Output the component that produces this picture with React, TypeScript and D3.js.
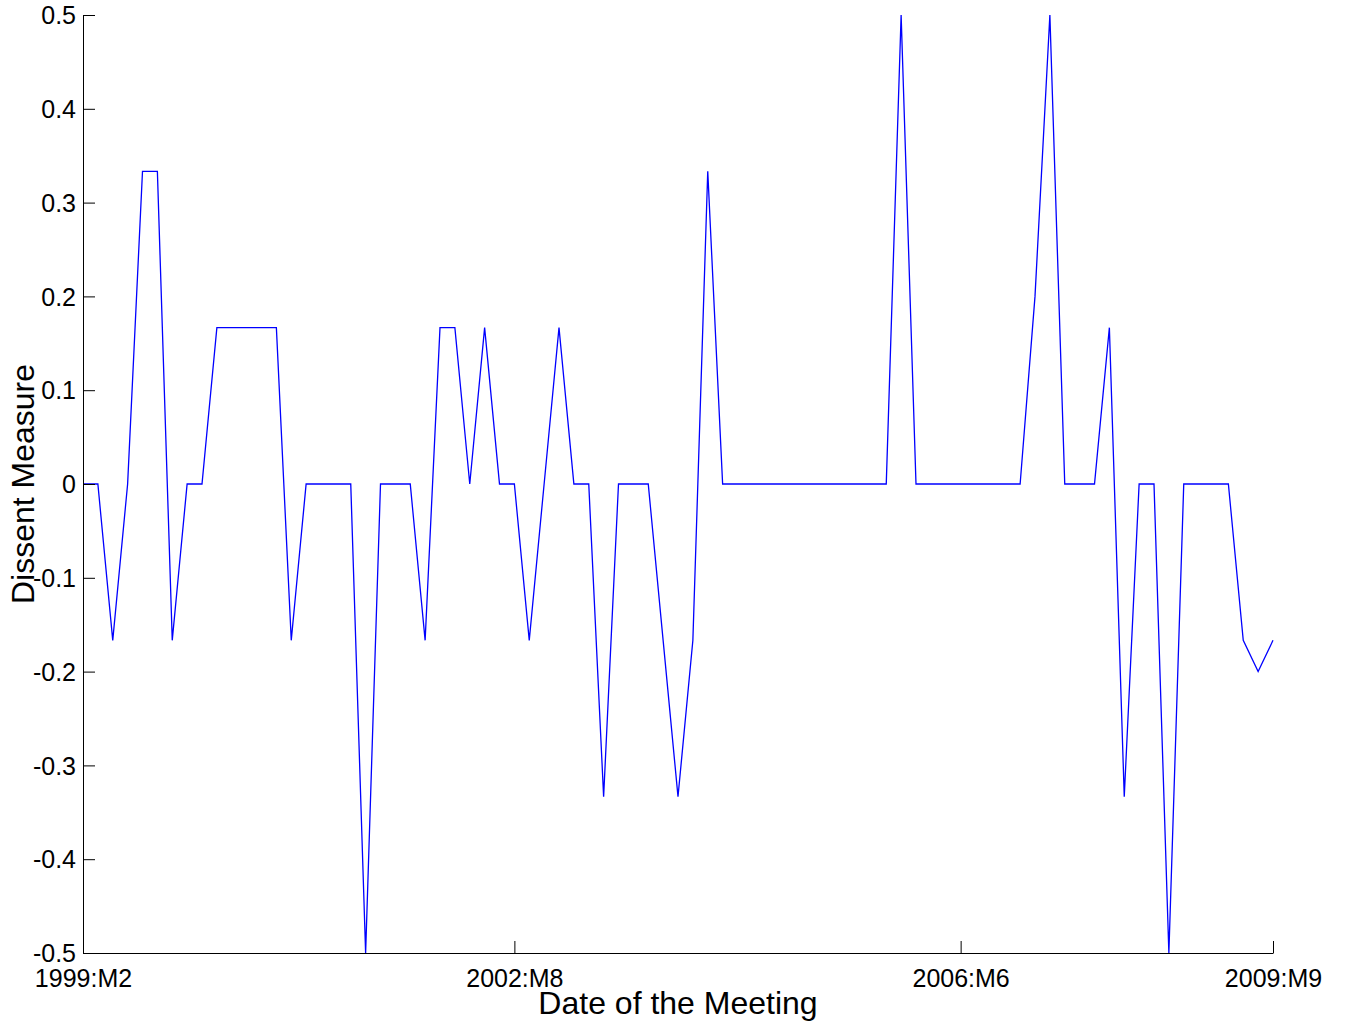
import React, { useEffect, useRef } from "react";
import * as d3 from "d3";

const S = 1 / 6;
const T = 1 / 3;
const dissent: number[] = [
  0, 0, -S, 0, T, T, -S, 0, 0, S,
  S, S, S, S, -S, 0, 0, 0, 0, -0.5,
  0, 0, 0, -S, S, S, 0, S, 0, 0,
  -S, 0, S, 0, 0, -T, 0, 0, 0, -S,
  -T, -S, T, 0, 0, 0, 0, 0, 0, 0,
  0, 0, 0, 0, 0, 0.5, 0, 0, 0, 0,
  0, 0, 0, 0, 0.2, 0.5, 0, 0, 0, S,
  -T, 0, 0, -0.5, 0, 0, 0, 0, -S, -0.2,
  -S,
];
const xTickIndex = [0, 29, 59, 80];
const xTickLabels = ["1999:M2", "2002:M8", "2006:M6", "2009:M9"];
const yTicks = [0.5, 0.4, 0.3, 0.2, 0.1, 0, -0.1, -0.2, -0.3, -0.4, -0.5];

const W = 1345;
const H = 1024;
const left = 83;
const right = 1273;
const top = 15;
const bottom = 953;
const FONT = "'Liberation Sans', Arial, Helvetica, sans-serif";

export default function App() {
  const ref = useRef<SVGSVGElement>(null);
  useEffect(() => {
    const svg = d3.select(ref.current);
    svg.selectAll("*").remove();
    const x = d3.scaleLinear().domain([0, dissent.length - 1]).range([left, right]);
    const y = d3.scaleLinear().domain([-0.5, 0.5]).range([bottom, top]);

    const line = d3
      .line<number>()
      .x((_, i) => x(i))
      .y((d) => y(d));
    svg
      .append("path")
      .datum(dissent)
      .attr("d", line)
      .attr("fill", "none")
      .attr("stroke", "#0000ff")
      .attr("stroke-width", 1.3)
      .attr("stroke-linejoin", "miter");

    // y axis
    const yAxis = d3
      .axisLeft(y)
      .tickValues(yTicks)
      .tickSizeInner(-12)
      .tickSizeOuter(0)
      .tickPadding(20)
      .tickFormat((d) => {
        const v = +d;
        if (Math.abs(v) < 1e-9) return "0";
        return (v < 0 ? "-" : "") + Math.abs(v).toFixed(1);
      });
    const gy = svg.append("g").attr("transform", `translate(${left},0)`).call(yAxis);
    gy.select(".domain").attr("stroke", "#000").attr("stroke-width", 1);
    gy.selectAll(".tick line").attr("stroke", "#000").attr("stroke-width", 1);
    gy.selectAll(".tick text")
      .attr("font-family", FONT)
      .attr("font-size", 25)
      .attr("fill", "#000")
      .attr("x", -7)
      .attr("dy", "0.35em");

    // x axis
    const xAxis = d3
      .axisBottom(x)
      .tickValues(xTickIndex)
      .tickSizeInner(-12)
      .tickSizeOuter(0)
      .tickFormat((d) => xTickLabels[xTickIndex.indexOf(+d)]);
    const gx = svg.append("g").attr("transform", `translate(0,${bottom})`).call(xAxis);
    gx.select(".domain").attr("stroke", "#000").attr("stroke-width", 1);
    gx.selectAll(".tick line").attr("stroke", "#000").attr("stroke-width", 1);
    gx.selectAll(".tick text")
      .attr("font-family", FONT)
      .attr("font-size", 25)
      .attr("fill", "#000")
      .attr("y", 34)
      .attr("dy", null);

    svg
      .append("text")
      .attr("x", (left + right) / 2)
      .attr("y", 1014)
      .attr("text-anchor", "middle")
      .attr("font-family", FONT)
      .attr("font-size", 32)
      .attr("fill", "#000")
      .text("Date of the Meeting");

    svg
      .append("text")
      .attr("transform", `translate(34,${(top + bottom) / 2}) rotate(-90)`)
      .attr("text-anchor", "middle")
      .attr("font-family", FONT)
      .attr("font-size", 32)
      .attr("fill", "#000")
      .text("Dissent Measure");
  }, []);

  return (
    <svg
      ref={ref}
      width={W}
      height={H}
      style={{ position: "absolute", left: 0, top: 0, background: "#fff" }}
    />
  );
}
